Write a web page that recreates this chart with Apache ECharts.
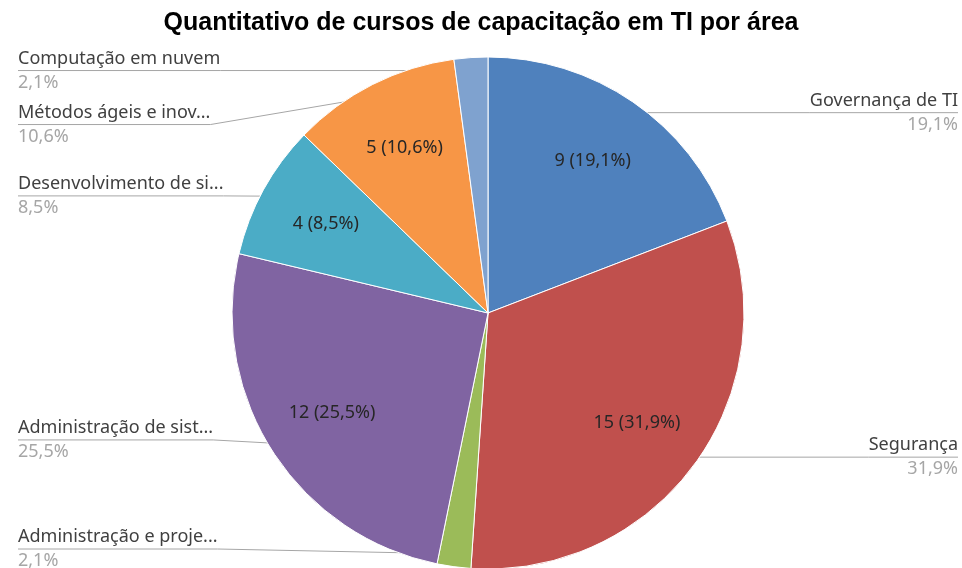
<!DOCTYPE html>
<html>
<head>
<meta charset="utf-8">
<script src="https://cdn.jsdelivr.net/npm/echarts@6/dist/echarts.min.js"></script>
<style>
  html, body { margin: 0; padding: 0; background: #fff; }
  #chart { width: 962px; height: 568px; }
</style>
</head>
<body>
<div id="chart"></div>
<script>
// Training courses per IT area (clockwise from 12 o'clock)
const categories = [
  'Governança de TI',
  'Segurança',
  'Administração e projetos',
  'Administração de sistemas',
  'Desenvolvimento de sistemas',
  'Métodos ágeis e inovação',
  'Computação em nuvem'
];
const courseCounts = [9, 15, 1, 12, 4, 5, 1];
const sliceColors = ['#4F81BD', '#C0504D', '#9BBB59', '#8064A2', '#4BACC6', '#F79646', '#7FA2CF'];
const chartTitle = 'Quantitativo de cursos de capacitação em TI por área';

const total = courseCounts.reduce((a, b) => a + b, 0);
const pct = v => (v / total * 100).toFixed(1).replace('.', ',') + '%';

const sideFont = '18px "Noto Sans"';
const sideLabelWidth = 210;
// long names are cut to the width available beside the pie
const shortName = s => echarts.format.truncateText(s, sideLabelWidth, sideFont, '...');

const chart = echarts.init(document.getElementById('chart'));

// the layout box runs a little past the bottom so the lowest label may sit on the edge
const box = { left: 14, right: 0, top: 0, bottom: -8 };
const center = ['50%', '54.34%'];
const R = 256;

const baseData = categories.map((name, i) => ({ name, value: courseCounts[i] }));

chart.setOption({
  animation: false,
  title: {
    text: chartTitle,
    left: 'center',
    top: 6,
    padding: [5, 0, 5, 14],
    textStyle: {
      fontFamily: 'Liberation Sans, Arial, sans-serif',
      fontWeight: 'bold',
      fontSize: 25,
      color: '#000'
    }
  },
  series: [
    // visible slices
    {
      type: 'pie',
      ...box,
      center,
      radius: [0, R],
      startAngle: 90,
      clockwise: true,
      silent: true,
      label: { show: false },
      labelLine: { show: false },
      itemStyle: { borderColor: '#fff', borderWidth: 1 },
      data: baseData.map((d, i) => ({ ...d, itemStyle: { color: sliceColors[i] } }))
    },
    // value labels inside the slices
    {
      type: 'pie',
      ...box,
      center,
      radius: [108, R],
      startAngle: 90,
      silent: true,
      itemStyle: { color: 'rgba(0,0,0,0)' },
      labelLine: { show: false },
      label: {
        show: true,
        position: 'inside',
        fontFamily: 'Noto Sans, sans-serif',
        fontSize: 18,
        color: '#262626',
        formatter: p => p.value / total < 0.05 ? '' : p.value + ' (' + pct(p.value) + ')'
      },
      data: baseData
    },
    // category labels along the sides
    {
      type: 'pie',
      ...box,
      center,
      radius: [0, 243],
      startAngle: 90,
      silent: true,
      itemStyle: { color: 'rgba(0,0,0,0)' },
      label: {
        show: true,
        position: 'outside',
        alignTo: 'edge',
        edgeDistance: 4,
        overflow: 'none',
        minMargin: 6,
        lineHeight: 24,
        fontSize: 18,
        fontFamily: 'Noto Sans, sans-serif',
        formatter: p => '{n|' + shortName(p.name) + '}\n{v|' + pct(p.value) + '}',
        rich: {
          n: { fontFamily: 'Noto Sans, sans-serif', fontSize: 18, color: '#404040', lineHeight: 24 },
          v: { fontFamily: 'Noto Sans, sans-serif', fontSize: 18, color: '#A6A6A6', lineHeight: 24 }
        }
      },
      labelLine: {
        show: true,
        length: 0,
        length2: 10,
        smooth: false,
        lineStyle: { color: '#A6A6A6', width: 1 }
      },
      labelLayout: function (params) {
        const pts = params.labelLinePoints;
        const r = params.labelRect;
        if (!pts || !r) return {};
        const yc = r.y + r.height / 2;
        const onLeft = (r.x + r.width / 2) < 488;
        const start = pts[0];
        const nearX = onLeft ? r.x + r.width : r.x;
        const farX = onLeft ? r.x : r.x + r.width;
        return {
          labelLinePoints: [start, [nearX, yc], [farX, yc]]
        };
      },
      data: baseData
    }
  ]
});
</script>
</body>
</html>
